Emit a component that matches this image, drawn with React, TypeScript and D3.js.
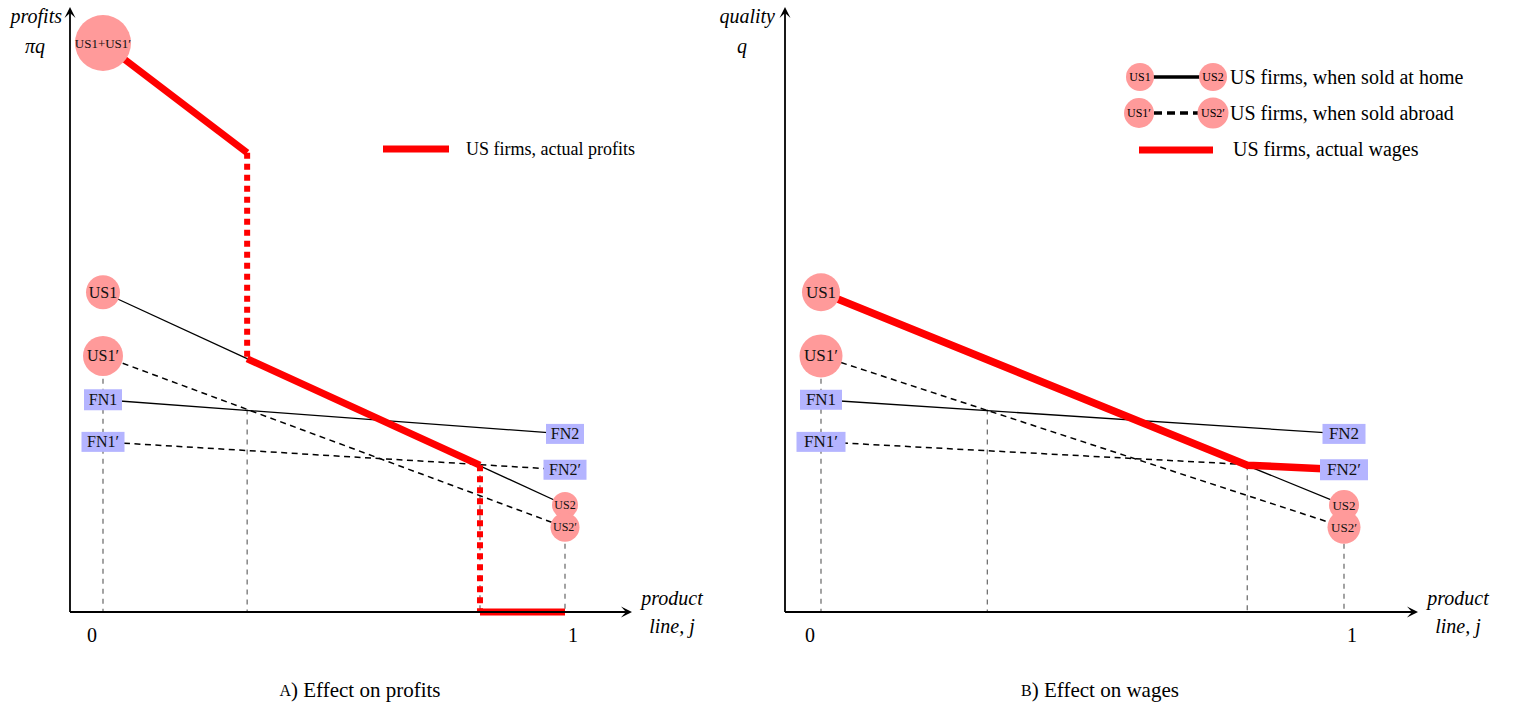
import React from 'react';
import * as d3 from 'd3';

// ---------- data ----------
const nodeNames = ['US1', 'US1′', 'FN1', 'FN1′', 'FN2', 'FN2′', 'US2', 'US2′'];
const nodeJ = [0, 0, 0, 0, 1, 1, 1, 1];
const nodeValue = [0.562, 0.45, 0.373, 0.299, 0.313, 0.25, 0.188, 0.149];
const topNodeName = 'US1+US1′';
const topNodeValue = 1.0;

const linkFrom = ['US1', 'US1′', 'FN1', 'FN1′'];
const linkTo = ['US2', 'US2′', 'FN2', 'FN2′'];
const linkKind = ['home', 'abroad', 'home', 'abroad'];

// actual profits (panel A): segments between consecutive points; 'jump' segments are dotted
const profitJ = [0, 0.312, 0.312, 0.816, 0.816, 1];
const profitV = [1.0, 0.807, 0.445, 0.258, 0, 0];
const profitSegKind = ['line', 'jump', 'line', 'jump', 'line'];

// actual wages (panel B)
const wageJ = [0, 0.815, 1];
const wageV = [0.562, 0.258, 0.25];

// vertical guides: j and upper value
const guideJA = [0, 0.312, 0.816, 1];
const guideTopA = [0.41, 0.356, 0.258, 0.12];
const guideJB = [0, 0.318, 0.815, 1];
const guideTopB = [0.41, 0.356, 0.258, 0.12];

const tickValues = [0, 1];
const tickLabels = ['0', '1'];

// ---------- styles ----------
const FONT = '"Liberation Serif", "Times New Roman", serif';
const PINK = '#ff9a9a';
const BLUE = '#b4b4ff';
const RED = '#ff0000';

const circleStyleA: Record<string, { r: number; fs: number }> = {
  'US1': { r: 17, fs: 16 },
  'US1′': { r: 20, fs: 16 },
  'US2': { r: 13, fs: 12 },
  'US2′': { r: 14.5, fs: 12 },
};
const circleStyleB: Record<string, { r: number; fs: number }> = {
  'US1': { r: 19, fs: 17 },
  'US1′': { r: 21.5, fs: 17 },
  'US2': { r: 15, fs: 13 },
  'US2′': { r: 16.5, fs: 13 },
};
const rectStyleA: Record<string, { w: number; h: number; fs: number }> = {
  'FN1': { w: 38, h: 21, fs: 16 },
  'FN1′': { w: 43, h: 20, fs: 16 },
  'FN2': { w: 38, h: 20, fs: 16 },
  'FN2′': { w: 43, h: 20, fs: 16 },
};
const rectStyleB: Record<string, { w: number; h: number; fs: number }> = {
  'FN1': { w: 42, h: 20, fs: 17 },
  'FN1′': { w: 49, h: 20, fs: 17 },
  'FN2': { w: 43, h: 20, fs: 17 },
  'FN2′': { w: 48, h: 21, fs: 17 },
};

const y = d3.scaleLinear().domain([0, 1]).range([612, 43]);
const xA = d3.scaleLinear().domain([0, 1]).range([103, 565]);
const xB = d3.scaleLinear().domain([0, 1]).range([821, 1344]);

function Arrow({ x1, y1, x2, y2 }: { x1: number; y1: number; x2: number; y2: number }) {
  const ang = Math.atan2(y2 - y1, x2 - x1);
  const L = 11, Wd = 5.5;
  const bx = x2 - L * Math.cos(ang), by = y2 - L * Math.sin(ang);
  const nx = -Math.sin(ang), ny = Math.cos(ang);
  const mx = x2 - L * 0.55 * Math.cos(ang), my = y2 - L * 0.55 * Math.sin(ang);
  const d = `M${x2},${y2} L${bx + nx * Wd},${by + ny * Wd} Q${mx},${my} ${mx},${my} L${bx - nx * Wd},${by - ny * Wd} Z`;
  return (
    <g>
      <line x1={x1} y1={y1} x2={mx} y2={my} stroke="#000" strokeWidth={1.8} />
      <path d={d} fill="#000" />
    </g>
  );
}

function Nodes({ x, cs, rs }: { x: d3.ScaleLinear<number, number>; cs: any; rs: any }) {
  return (
    <g>
      {nodeNames.map((n, i) => {
        const cx = x(nodeJ[i]);
        const cy = y(nodeValue[i]);
        if (cs[n]) {
          const s = cs[n];
          return (
            <g key={n}>
              <circle cx={cx} cy={cy} r={s.r} fill={PINK} />
              <text x={cx} y={cy} textAnchor="middle" dominantBaseline="central" fontSize={s.fs} fontFamily={FONT} fill="#111">{n}</text>
            </g>
          );
        }
        const s = rs[n];
        return (
          <g key={n}>
            <rect x={cx - s.w / 2} y={cy - s.h / 2} width={s.w} height={s.h} fill={BLUE} />
            <text x={cx} y={cy} textAnchor="middle" dominantBaseline="central" fontSize={s.fs} fontFamily={FONT} fill="#111">{n}</text>
          </g>
        );
      })}
    </g>
  );
}

function Links({ x }: { x: d3.ScaleLinear<number, number> }) {
  return (
    <g>
      {linkFrom.map((f, k) => {
        const i = nodeNames.indexOf(f), j = nodeNames.indexOf(linkTo[k]);
        return (
          <line key={k} x1={x(nodeJ[i])} y1={y(nodeValue[i])} x2={x(nodeJ[j])} y2={y(nodeValue[j])}
            stroke="#000" strokeWidth={linkKind[k] === 'home' ? 1.3 : 1.5}
            strokeDasharray={linkKind[k] === 'home' ? undefined : '6 4.5'} />
        );
      })}
    </g>
  );
}

function Guides({ x, js, tops }: { x: d3.ScaleLinear<number, number>; js: number[]; tops: number[] }) {
  return (
    <g>
      {js.map((j, i) => (
        <line key={i} x1={x(j)} x2={x(j)} y1={y(tops[i])} y2={y(0)} stroke="#666" strokeWidth={1.2} strokeDasharray="5 5" />
      ))}
    </g>
  );
}

function AxisFrame({ x0, xEnd, x, yLab1, yLab2, yLabX, yLab2X }: any) {
  return (
    <g fontFamily={FONT}>
      <Arrow x1={x0} y1={y(0)} x2={x0} y2={7} />
      <Arrow x1={x0} y1={y(0)} x2={xEnd} y2={y(0)} />
      <text x={yLabX} y={16} textAnchor="end" dominantBaseline="central" fontStyle="italic" fontSize={20}>{yLab1}</text>
      <text x={yLab2X} y={46} textAnchor="middle" dominantBaseline="central" fontStyle="italic" fontSize={20}>{yLab2}</text>
      <text x={xEnd + 40} y={598} textAnchor="middle" dominantBaseline="central" fontStyle="italic" fontSize={20}>product</text>
      <text x={xEnd + 40} y={626} textAnchor="middle" dominantBaseline="central" fontStyle="italic" fontSize={20}>line,  j</text>
      {tickValues.map((t, i) => (
        <text key={i} x={x(t) + (t === 0 ? -11 : 8)} y={635} textAnchor="middle" dominantBaseline="central" fontSize={20}>{tickLabels[i]}</text>
      ))}
    </g>
  );
}

export default function App() {
  const profitLine = d3.line<number>().x((d) => xA(profitJ[d])).y((d) => y(profitV[d]));
  const wageLine = d3.line<number>().x((d) => xB(wageJ[d])).y((d) => y(wageV[d]));
  return (
    <svg width={1520} height={711} style={{ position: 'absolute', left: 0, top: 0, background: '#fff' }}>
      <rect width={1520} height={711} fill="#fff" />
      {/* Panel A */}
      <Guides x={xA} js={guideJA} tops={guideTopA} />
      <Links x={xA} />
      {profitSegKind.map((k, i) => (
        <path key={i} d={profitLine([i, i + 1]) || ''} stroke={RED} fill="none"
          strokeWidth={k === 'line' ? 7 : 6} strokeDasharray={k === 'jump' ? '6 5' : undefined} />
      ))}
      <Nodes x={xA} cs={circleStyleA} rs={rectStyleA} />
      <circle cx={xA(0)} cy={y(topNodeValue)} r={28} fill={PINK} />
      <text x={xA(0)} y={y(topNodeValue)} textAnchor="middle" dominantBaseline="central" fontSize={13} fontFamily={FONT} fill="#111">{topNodeName}</text>
      <AxisFrame x0={70} xEnd={632} x={xA} yLab1="profits" yLab2="πq" yLabX={62} yLab2X={35} />
      {/* legend A */}
      <line x1={383} x2={449} y1={149} y2={149} stroke={RED} strokeWidth={7} />
      <text x={466} y={149} dominantBaseline="central" fontSize={18} fontFamily={FONT}>US firms, actual profits</text>

      {/* Panel B */}
      <Guides x={xB} js={guideJB} tops={guideTopB} />
      <Links x={xB} />
      <path d={wageLine([0, 1, 2]) || ''} stroke={RED} fill="none" strokeWidth={7.5} strokeLinejoin="round" />
      <Nodes x={xB} cs={circleStyleB} rs={rectStyleB} />
      <AxisFrame x0={785} xEnd={1418} x={xB} yLab1="quality" yLab2="q" yLabX={775} yLab2X={742} />
      {/* legend B */}
      <g fontFamily={FONT}>
        <line x1={1150} x2={1202} y1={77} y2={77} stroke="#000" strokeWidth={3.3} />
        <circle cx={1140} cy={77} r={14} fill={PINK} />
        <circle cx={1213} cy={77} r={14} fill={PINK} />
        <text x={1140} y={77} textAnchor="middle" dominantBaseline="central" fontSize={12}>US1</text>
        <text x={1213} y={77} textAnchor="middle" dominantBaseline="central" fontSize={12}>US2</text>
        <text x={1230} y={77} dominantBaseline="central" fontSize={20}>US firms, when sold at home</text>

        <line x1={1154} x2={1198} y1={113} y2={113} stroke="#000" strokeWidth={3.3} strokeDasharray="8 5" />
        <circle cx={1139} cy={113} r={15} fill={PINK} />
        <circle cx={1213} cy={113} r={15.5} fill={PINK} />
        <text x={1139} y={113} textAnchor="middle" dominantBaseline="central" fontSize={12}>US1′</text>
        <text x={1213} y={113} textAnchor="middle" dominantBaseline="central" fontSize={12}>US2′</text>
        <text x={1230} y={113} dominantBaseline="central" fontSize={20}>US firms, when sold abroad</text>

        <line x1={1139} x2={1213} y1={150} y2={150} stroke={RED} strokeWidth={7} />
        <text x={1233} y={149} dominantBaseline="central" fontSize={20}>US firms, actual wages</text>
      </g>

      {/* captions */}
      <text x={360} y={690} textAnchor="middle" dominantBaseline="central" fontSize={21} fontFamily={FONT}>
        <tspan fontSize={16}>A</tspan>) Effect on profits
      </text>
      <text x={1100} y={690} textAnchor="middle" dominantBaseline="central" fontSize={21} fontFamily={FONT}>
        <tspan fontSize={16}>B</tspan>) Effect on wages
      </text>
    </svg>
  );
}
